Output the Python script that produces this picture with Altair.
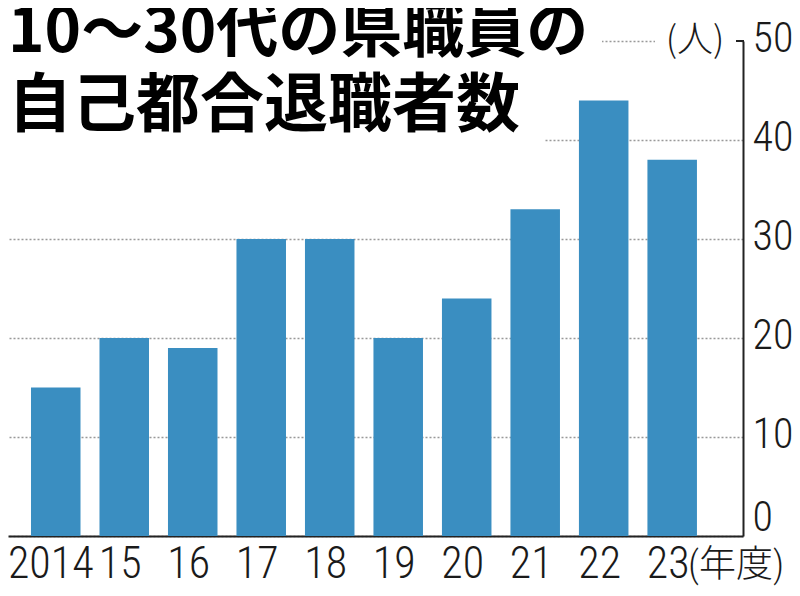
import altair as alt
import pandas as pd

years = ["2014", "15", "16", "17", "18", "19", "20", "21", "22", "23"]
counts = [15, 20, 19, 30, 30, 20, 24, 33, 44, 38]
y_ticks = [0, 10, 20, 30, 40, 50]
title_lines = ["10〜30代の県職員の", "自己都合退職者数"]
unit_y = "(人)"
unit_x = "(年度)"

df = pd.DataFrame({"year": years, "count": counts})
one = pd.DataFrame({"k": [0]})

FONT_NUM = "Roboto Condensed, Roboto, Noto Sans CJK JP"
FONT_CJK = "Noto Sans CJK JP"
BAR = "#3a8ec1"
INK = "#1a1a1a"

x = alt.X(
    "year:N", sort=years, title=None,
    scale=alt.Scale(paddingInner=0.277, paddingOuter=0.504, align=0.333),
    axis=alt.Axis(
        labelAngle=0, labelFont=FONT_NUM, labelFontSize=44, labelFontWeight=300,
        labelColor=INK, ticks=False, domainColor="#222", domainWidth=2, labelPadding=6,
        labelOffset={"condition": {"test": "datum.value == '2014'", "value": -5}, "value": -4},
        labelOverlap=False, labelBound=False, labelFlush=False,
    ),
)

y = alt.Y(
    "count:Q", title=None,
    scale=alt.Scale(domain=[0, 50], nice=False, zero=True),
    axis=alt.Axis(
        orient="right", values=y_ticks, labelFont=FONT_NUM, labelFontSize=42,
        labelFontWeight=300, labelColor=INK, labelPadding=9, ticks=False,
        domainColor="#222", domainWidth=2, grid=True, gridColor="#999",
        gridDash=[2, 2], gridWidth=1.5, labelBaseline="middle",
        labelOffset={"condition": {"test": "datum.value == 0", "value": -19}, "value": -3},
        labelFlush=False, labelBound=False, labelOverlap=False,
    ),
)

bars = alt.Chart(df).mark_bar(color=BAR).encode(x=x, y=y)

mask50a = alt.Chart(one).mark_rule(color="white", strokeWidth=8).encode(
    y=alt.datum(50), x=alt.value(0), x2=alt.value(594))
mask50b = alt.Chart(one).mark_rule(color="white", strokeWidth=8).encode(
    y=alt.datum(50), x=alt.value(647), x2=alt.value(733))
mask40 = alt.Chart(one).mark_rule(color="white", strokeWidth=8).encode(
    y=alt.datum(40), x=alt.value(0), x2=alt.value(537))
stub = alt.Chart(one).mark_rule(color="#222", strokeWidth=2).encode(
    y=alt.datum(50), x=alt.value(728), x2=alt.value(736))

t1 = alt.Chart(one).mark_text(font=FONT_CJK, fontSize=62, fontWeight="bold",
                              align="left", baseline="middle", color="black").encode(
    x=alt.value(0), y=alt.value(-8), text=alt.value(title_lines[0]))
t2 = alt.Chart(one).mark_text(font=FONT_CJK, fontSize=64, fontWeight="bold",
                              align="left", baseline="middle", color="black").encode(
    x=alt.value(0), y=alt.value(66), text=alt.value(title_lines[1]))
unit = alt.Chart(one).mark_text(font=FONT_CJK, fontSize=36, fontWeight=300, align="center",
                                baseline="middle", color=INK).encode(
    x=alt.value(687), y=alt.datum(50), text=alt.value(unit_y))
unit_year = alt.Chart(one).mark_text(font=FONT_NUM, fontSize=37, fontWeight=300,
                                     align="left", baseline="middle", color=INK,
                                     dx=16, dy=30).encode(
    x=alt.datum("23"), y=alt.datum(0), text=alt.value(unit_x))

chart = alt.layer(mask50a, mask50b, mask40, bars, stub, t1, t2, unit, unit_year).properties(
    width=735, height=495,
    padding={"left": 0, "top": 33, "right": 49, "bottom": 52},
    autosize=alt.AutoSizeParams(type="none"),
    background="white",
).configure_view(stroke=None)

chart.save("out.html", embed_options={"renderer": "svg", "actions": False})
